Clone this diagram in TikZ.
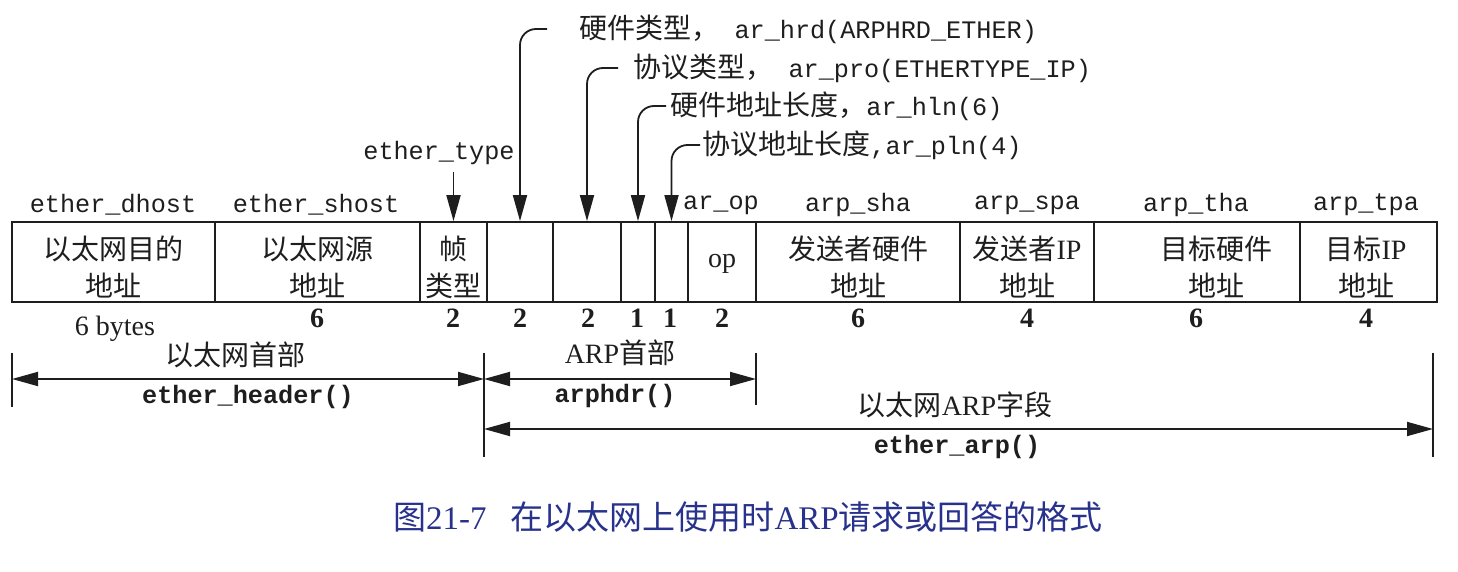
\documentclass[tikz,border=0pt]{standalone}
\usepackage{fontspec}
\setmainfont{Liberation Serif}
\setmonofont{Liberation Mono}
\newfontfamily\cjk{Noto Sans CJK SC}
\usetikzlibrary{arrows.meta}
\definecolor{capblue}{RGB}{40,50,140}
\definecolor{ink}{RGB}{30,30,30}
\newcommand\zhtxt[1]{{\fontsize{14}{16}\selectfont\cjk #1}}
\begin{document}
\begin{tikzpicture}[x=0.5pt,y=-0.5pt,
  every node/.style={text=ink},
  cell/.style={draw=ink,line width=0.9pt,inner sep=0pt,minimum height=40pt,align=center,font=\fontsize{14}{18.5}\selectfont\cjk},
  ctext/.style={inner sep=0pt,align=center,font=\fontsize{14}{18.5}\selectfont\cjk},
  fname/.style={font=\fontsize{12.6}{15}\selectfont\ttfamily},
  bmono/.style={font=\fontsize{12.6}{15}\selectfont\ttfamily\bfseries},
  num/.style={font=\fontsize{14}{16}\selectfont\bfseries},
  lat/.style={font=\fontsize{14}{16}\selectfont},
  cjkt/.style={font=\fontsize{14}{16}\selectfont\cjk},
  lab/.style={anchor=west,inner sep=0pt,font=\fontsize{12.6}{15}\selectfont\ttfamily},
  arr/.style={draw=ink,line width=0.9pt,-{Triangle[length=13pt,width=7pt]}},
  darr/.style={draw=ink,line width=0.9pt,{Triangle[length=13pt,width=7pt]}-{Triangle[length=13pt,width=7pt]}},
  tick/.style={draw=ink,line width=0.9pt},
]
\useasboundingbox (0,0) rectangle (1458,572);

% cells
\node[cell,minimum width=101.5pt] (c1) at (113.5,262) {};
\node[cell,minimum width=102.5pt] (c2) at (317.5,262) {};
\node[cell,minimum width=33.5pt] (c3) at (453.5,262) {};
\node[cell,minimum width=33pt] (c4) at (520,262) {};
\node[cell,minimum width=34pt] (c5) at (587,262) {};
\node[cell,minimum width=17pt] (c6) at (638,262) {};
\node[cell,minimum width=16.5pt] (c7) at (671.5,262) {};
\node[cell,minimum width=34pt] (c8) at (722,262) {};
\node[cell,minimum width=102pt] (c9) at (858,262) {};
\node[cell,minimum width=67pt] (c10) at (1027,262) {};
\node[cell,minimum width=103pt] (c11) at (1197,262) {};
\node[cell,minimum width=68.5pt] (c12) at (1368.5,262) {};

% cell texts
\node[ctext] (x1) at (113.5,267) {以太网目的\\地址};
\node[ctext] (x2) at (317.5,267) {以太网源\\地址};
\node[ctext] (x3) at (453.5,267) {帧\\类型};
\node[ctext,font=\fontsize{14}{16}\selectfont] (x8) at (722,264) {op};
\node[ctext] (x9) at (858,267) {发送者硬件\\地址};
\node[ctext] (x10) at (1027,267) {发送者{\rmfamily IP}\\地址};
\node[ctext] (x11) at (1216,267) {目标硬件\\地址};
\node[ctext] (x12) at (1366,267) {目标{\rmfamily IP}\\地址};

% field names
\node[fname] (f1) at (113,205) {ether\_dhost};
\node[fname] (f2) at (316,205) {ether\_shost};
\node[fname] (f8) at (721,205) {ar\_op};
\node[fname] (f9) at (858,205) {arp\_sha};
\node[fname] (f10) at (1027,205) {arp\_spa};
\node[fname] (f11) at (1196,205) {arp\_tha};
\node[fname] (f12) at (1366,205) {arp\_tpa};

% sizes
\node[lat] (n1) at (115,329) {6 bytes};
\node[num] (n2) at (317,318) {6};
\node[num] (n3) at (453,318) {2};
\node[num] (n4) at (520,318) {2};
\node[num] (n5) at (588,318) {2};
\node[num] (n6) at (637,318) {1};
\node[num] (n7) at (670,318) {1};
\node[num] (n8) at (722,318) {2};
\node[num] (n9) at (858,318) {6};
\node[num] (n10) at (1027,318) {4};
\node[num] (n11) at (1196,318) {6};
\node[num] (n12) at (1366,318) {4};

% top labels
\node[fname] (et) at (439,153) {ether\_type};
\draw[arr] (c3.north |- et.south) -- (c3.north);
\node[lab] (l1) at (579,29) {\zhtxt{硬件类型，}\ ar\_hrd(ARPHRD\_ETHER)};
\node[lab] (l2) at (633,68) {\zhtxt{协议类型，}\ ar\_pro(ETHERTYPE\_IP)};
\node[lab] (l3) at (670,106) {\zhtxt{硬件地址长度，}ar\_hln(6)};
\node[lab] (l4) at (702,145) {\zhtxt{协议地址长度}{,}ar\_pln(4)};
\draw[arr,rounded corners=8pt] ([xshift=-16pt]l1.west) -| (c4.north);
\draw[arr,rounded corners=8pt] ([xshift=-7.5pt]l2.west) -| (c5.north);
\draw[arr,rounded corners=8pt] ([xshift=-2pt]l3.west) -| (c6.north);
\draw[arr,rounded corners=8pt] ([xshift=-1pt]l4.west) -| (c7.north);

% dimension lines
\coordinate (tA1) at (12,353); \coordinate (tA2) at (12,407);
\coordinate (tB1) at (484,353); \coordinate (tB2) at (484,457);
\coordinate (tC1) at (756,353); \coordinate (tC2) at (756,405);
\coordinate (tD1) at (1433,353); \coordinate (tD2) at (1433,457);
\draw[tick] (tA1) -- (tA2);
\draw[tick] (tB1) -- (tB2);
\draw[tick] (tC1) -- (tC2);
\draw[tick] (tD1) -- (tD2);
\coordinate (hA) at (12,379); \coordinate (hB) at (484,379); \coordinate (hC) at (756,379);
\coordinate (aB) at (484,429); \coordinate (aD) at (1433,429);
\draw[darr] (hA) -- (hB);
\draw[darr] (hB) -- (hC);
\draw[darr] (aB) -- (aD);

\node[cjkt] (d1) at (235,355) {以太网首部};
\node[bmono] (d2) at (248,397) {ether\_header()};
\node[lat] (d3) at (620,353) {ARP\zhtxt{首部}};
\node[bmono] (d4) at (615,396) {arphdr()};
\node[lat] (d5) at (955,405) {\zhtxt{以太网}ARP\zhtxt{字段}};
\node[bmono] (d6) at (957,447) {ether\_arp()};

% caption
\node[anchor=west,text=capblue,font=\fontsize{16.5}{18}\selectfont] (cap) at (386,517) {{\cjk 图}21-7\hspace{12pt}{\cjk 在以太网上使用时}ARP{\cjk 请求或回答的格式}};
\end{tikzpicture}
\end{document}
